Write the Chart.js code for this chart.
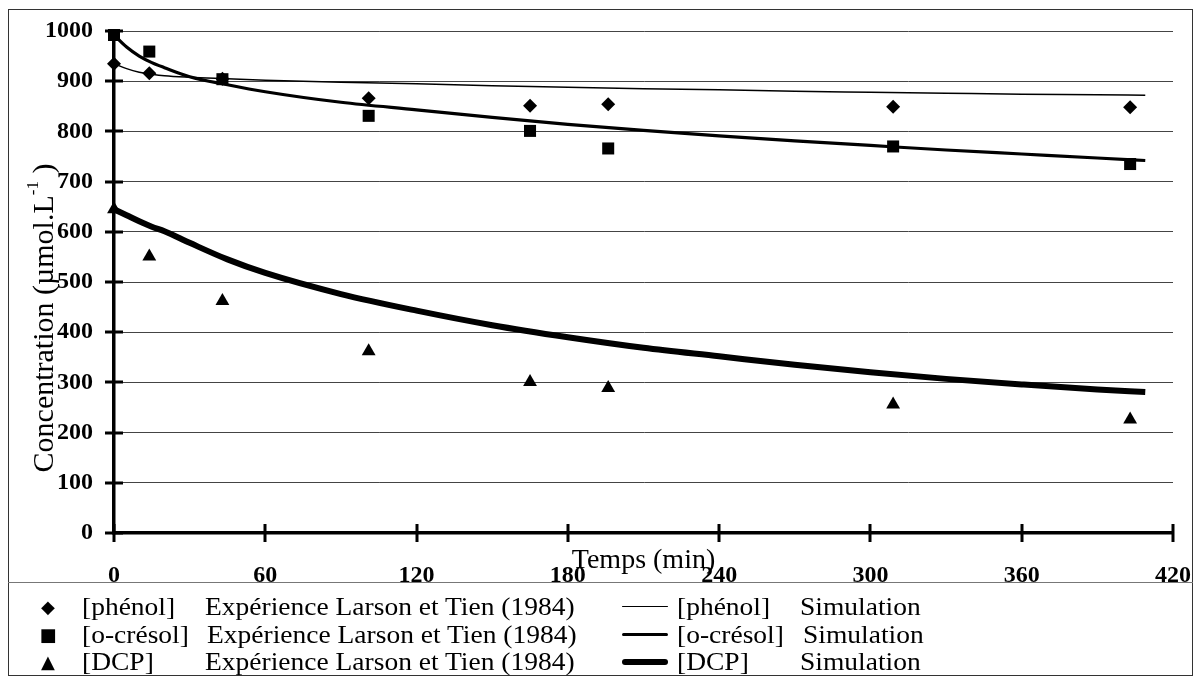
<!DOCTYPE html>
<html>
<head>
<meta charset="utf-8">
<script src="https://cdn.jsdelivr.net/npm/chart.js@4"></script>
<style>
  body { margin: 0; background: #fff; }
  #wrap { position: relative; width: 1200px; height: 678px; font-family: "Liberation Serif", serif; }
  #frame { position: absolute; left: 8px; top: 9px; width: 1185px; height: 667px; border: 1.5px solid #333; box-sizing: border-box; }
  #sep { position: absolute; left: 8px; top: 582px; width: 1185px; height: 0; border-top: 1.5px solid #777; }
  #chartBox { position: absolute; left: 0; top: 0; width: 1200px; height: 678px; }
  .lg { position: absolute; font-size: 25px; line-height: 28px; white-space: nowrap; color: #000;
        transform: scaleX(1.1); transform-origin: left center; }
  .mk { position: absolute; font-family: "DejaVu Sans", sans-serif; font-size: 18px; line-height: 28px; width: 20px; text-align: center; }
  .ln { position: absolute; height: 0; border-top-style: solid; border-top-color: #000; border-radius: 3px; }
</style>
</head>
<body>
<div id="wrap">
  <div id="chartBox"><canvas id="c"></canvas></div>
  <div id="frame"></div>
  <div id="sep"></div>
  <div id="legend"></div>
</div>
<script>
// Données
const compounds = ['[phénol]', '[o-crésol]', '[DCP]'];
const expLabel = 'Expérience Larson et Tien (1984)';
const simLabel = 'Simulation';
const xTitle = 'Temps (min)';

// points expérimentaux
const tempsExp = [0, 14, 43, 101, 165, 196, 309, 403];
const phenolExp = [935, 916, 905, 866, 851, 854, 849, 848];
const cresolExp = [992, 959, 904, 831, 801, 766, 770, 735];
const dcpExp = [645, 551, 462, 362, 301, 289, 256, 226];

// courbes simulées
const tempsSim = [0, 5, 10, 15, 20, 30, 45, 60, 90, 120, 150, 180, 210, 240, 270, 300, 330, 360, 390, 409];
const phenolSim = [935, 925, 918, 914, 911, 908, 905, 902, 898, 895, 891, 888, 885, 883, 880, 878, 876, 874, 873, 872];
const cresolSim = [992, 968, 950, 937, 927, 909, 893, 879, 858, 843, 828, 814, 802, 791, 781, 772, 763, 755, 747, 742];
const dcpSim = [645, 633, 621, 610, 601, 578, 545, 518, 476, 443, 414, 390, 369, 352, 335, 320, 307, 296, 286, 281];

const xTicks = [0, 60, 120, 180, 240, 300, 360, 420];
const yTicks = [0, 100, 200, 300, 400, 500, 600, 700, 800, 900, 1000];

const pts = (xs, ys) => xs.map((t, i) => ({x: t, y: ys[i]}));

function expSet(label, data, style, radius) {
    return {
        label: label, data: pts(tempsExp, data), showLine: false,
        pointStyle: style, pointRadius: radius, pointHoverRadius: radius,
        backgroundColor: '#000', borderColor: '#000', borderWidth: 0, clip: false
    };
}
function simSet(label, data, width) {
    return {
        label: label, data: pts(tempsSim, data), showLine: true, pointRadius: 0,
        borderColor: '#000', borderWidth: width, cubicInterpolationMode: 'monotone',
        fill: false, clip: false
    };
}

// petits traits qui traversent les axes + titres des axes
const extras = {
    id: 'extras',
    afterDraw(chart) {
        const ctx = chart.ctx, a = chart.chartArea, x = chart.scales.x, y = chart.scales.y;
        ctx.save();
        ctx.strokeStyle = '#000';
        ctx.lineWidth = 3;
        ctx.beginPath();
        yTicks.forEach(v => {
            const p = Math.round(y.getPixelForValue(v));
            ctx.moveTo(a.left - 9, p); ctx.lineTo(a.left + 9, p);
        });
        xTicks.forEach(v => {
            const p = Math.round(x.getPixelForValue(v));
            ctx.moveTo(p, a.bottom - 9); ctx.lineTo(p, a.bottom + 9);
        });
        ctx.stroke();

        ctx.fillStyle = '#000';
        ctx.font = '28px "Liberation Serif"';
        ctx.textAlign = 'center';
        ctx.textBaseline = 'alphabetic';
        ctx.fillText(xTitle, (a.left + a.right) / 2, a.bottom + 35);

        // titre vertical avec exposant
        const p1 = 'Concentration (µmol.L', sup = '-1', p2 = ' )';
        const fMain = '30px "Liberation Serif"', fSup = '17px "Liberation Serif"';
        ctx.font = fMain;
        const w1 = ctx.measureText(p1).width, w3 = ctx.measureText(p2).width;
        ctx.font = fSup;
        const w2 = ctx.measureText(sup).width;
        const total = w1 + w2 + w3;
        ctx.translate(53, 318);
        ctx.rotate(-Math.PI / 2);
        ctx.textAlign = 'left';
        let cx = -total / 2;
        ctx.font = fMain; ctx.fillText(p1, cx, 0); cx += w1;
        ctx.font = fSup; ctx.fillText(sup, cx, -15); cx += w2;
        ctx.font = fMain; ctx.fillText(p2, cx, 0);
        ctx.restore();
    }
};

const tickFont = { family: 'Liberation Serif', size: 24, weight: 'bold' };

new Chart(document.getElementById('c').getContext('2d'), {
    type: 'scatter',
    data: {
        datasets: [
            expSet(compounds[0] + ' ' + expLabel, phenolExp, 'rectRot', 7),
            expSet(compounds[1] + ' ' + expLabel, cresolExp, 'rect', 8.5),
            expSet(compounds[2] + ' ' + expLabel, dcpExp, 'triangle', 8),
            simSet(compounds[0] + ' ' + simLabel, phenolSim, 1.5),
            simSet(compounds[1] + ' ' + simLabel, cresolSim, 3.2),
            simSet(compounds[2] + ' ' + simLabel, dcpSim, 6)
        ]
    },
    options: {
        responsive: true,
        maintainAspectRatio: false,
        animation: false,
        events: [],
        layout: { padding: { left: 0, top: 31, right: 27, bottom: 95 } },
        plugins: { legend: { display: false }, tooltip: { enabled: false } },
        scales: {
            x: {
                type: 'linear', min: 0, max: 420,
                afterBuildTicks: s => { s.ticks = xTicks.map(v => ({value: v})); },
                afterFit: s => { s.height = 50; s.paddingLeft = 0; s.paddingRight = 20; },
                grid: { display: false, drawTicks: false },
                border: { display: true, color: '#000', width: 3.5 },
                ticks: { color: '#000', padding: 28, maxRotation: 0, autoSkip: false,
                         callback: v => String(v), font: tickFont }
            },
            y: {
                min: 0, max: 1000,
                afterBuildTicks: s => { s.ticks = yTicks.map(v => ({value: v})); },
                afterFit: s => { s.width = 114; s.paddingTop = 0; s.paddingBottom = 0; },
                grid: { display: true, drawTicks: false, color: '#444', lineWidth: 1 },
                border: { display: true, color: '#000', width: 3.5 },
                ticks: { color: '#000', padding: 21, callback: v => String(v), font: tickFont }
            }
        }
    },
    plugins: [extras]
});

// légende en bas
const legend = document.getElementById('legend');
const rowsY = [607, 635, 662];
const marks = ['◆', '■', '▲'];
const lineW = [1.5, 3.2, 6];
const expLeft = [205, 207, 205];
const simLeft = [800, 803, 800];
compounds.forEach((c, i) => {
    const top = rowsY[i] - 14;
    legend.insertAdjacentHTML('beforeend',
        `<div class="mk" style="left:38px;top:${top}px">${marks[i]}</div>` +
        `<div class="lg" style="left:82px;top:${top}px">${c}</div>` +
        `<div class="lg" style="left:${expLeft[i]}px;top:${top}px">${expLabel}</div>` +
        `<div class="ln" style="left:622px;width:46px;top:${rowsY[i] - lineW[i] / 2}px;border-top-width:${lineW[i]}px"></div>` +
        `<div class="lg" style="left:677px;top:${top}px">${c}</div>` +
        `<div class="lg" style="left:${simLeft[i]}px;top:${top}px">${simLabel}</div>`);
});
</script>
</body>
</html>
